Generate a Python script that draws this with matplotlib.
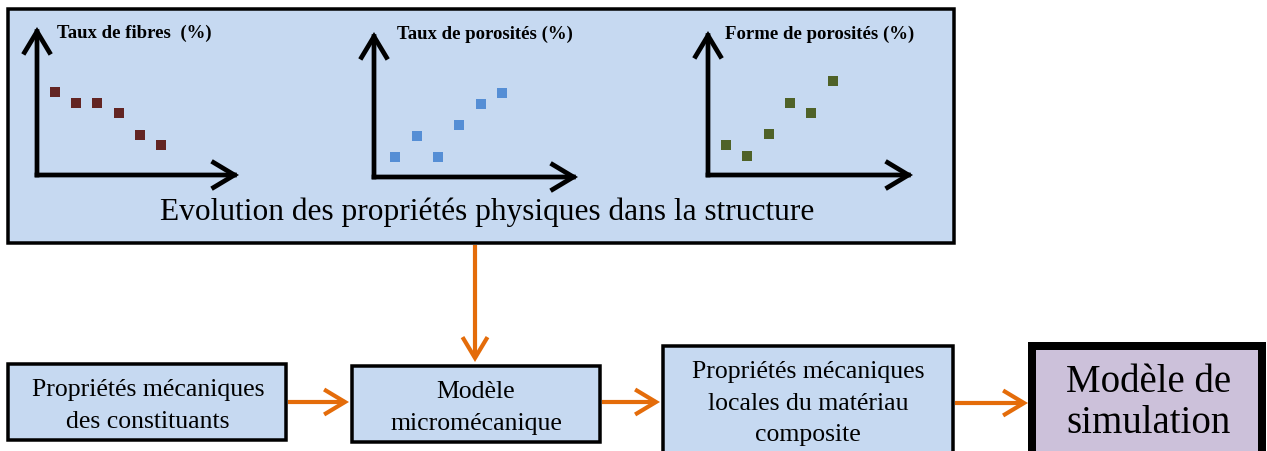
import matplotlib
matplotlib.use("Agg")
import matplotlib.pyplot as plt
from matplotlib.patches import Rectangle, FancyArrowPatch

# ---------------- data ----------------
x_points = [1, 2, 3, 4, 5, 6]
taux_fibres = [8, 7, 7, 6, 4, 3]
taux_porosites = [2, 4, 2, 5, 7, 8]
forme_porosites = [3, 2, 4, 7, 6, 9]

mini_titles = ["Taux de fibres  (%)", "Taux de porosités (%)", "Forme de porosités (%)"]
main_title = "Evolution des propriétés physiques dans la structure"
box1_lines = ["Propriétés mécaniques", "des constituants"]
box2_lines = ["Modèle", "micromécanique"]
box3_lines = ["Propriétés mécaniques", "locales du matériau", "composite"]
box4_lines = ["Modèle de", "simulation"]

# ---------------- style ----------------
W, H = 1267, 452
DPI = 100
BLUE_FILL = "#C6D9F1"
PURPLE_FILL = "#CCC1DA"
ORANGE = "#E46C0A"
SERIF = "Liberation Serif"

fig = plt.figure(figsize=(W / DPI, H / DPI), dpi=DPI)
fig.patch.set_facecolor("white")
ax = fig.add_axes([0, 0, 1, 1])
ax.set_xlim(0, W)
ax.set_ylim(H, 0)
ax.axis("off")


def box(x0, y0, x1, y1, fc, lw_px):
    lw_pt = lw_px * 72 / DPI
    h = lw_px / 2
    r = Rectangle((x0 + h, y0 + h), (x1 - x0) - lw_px, (y1 - y0) - lw_px,
                  facecolor=fc, edgecolor="black", linewidth=lw_pt,
                  joinstyle="miter", clip_on=False)
    ax.add_patch(r)


def orange_arrow(p0, p1):
    a = FancyArrowPatch(p0, p1, arrowstyle="->,head_length=15,head_width=9",
                        mutation_scale=1, color=ORANGE, linewidth=3.0,
                        shrinkA=0, shrinkB=0, joinstyle="miter", capstyle="butt")
    ax.add_patch(a)


# ---------------- top box ----------------
box(6, 8, 956, 246, BLUE_FILL, 3.5)
ax.text(487, 220, main_title, fontsize=22.6, family=SERIF, ha="center",
        va="baseline", color="black")

# ---------------- mini charts ----------------
# (origin x, origin y, arrow tip x, arrow tip top y, title x, title baseline,
#  data, colour, x offset, y offset)
charts = [
    (37, 176, 239, 28, 57, 38, taux_fibres, "#632523", 0.16, 0.18),
    (374, 178, 578, 33, 397, 39, taux_porosites, "#558ED5", 0.0, 0.09),
    (708, 176, 913, 32, 725, 39, forme_porosites, "#4F6228", 0.15, 0.17),
]
XSTEP, YSTEP = 21.3, 10.6
for (ox, oy, tx, ty, ttx, tty, vals, col, xoff, yoff), title in zip(charts, mini_titles):
    w_px, h_px = tx - ox, oy - ty
    sub = fig.add_axes([ox / W, (H - oy) / H, w_px / W, h_px / H])
    sub.set_xlim(xoff, xoff + w_px / XSTEP)
    sub.set_ylim(yoff, yoff + h_px / YSTEP)
    sub.axis("off")
    sub.patch.set_alpha(0)
    for end in [(1, 0), (0, 1)]:
        arr = FancyArrowPatch((0, 0), end, transform=sub.transAxes,
                              arrowstyle="->,head_length=15,head_width=9",
                              mutation_scale=1, color="black", linewidth=3.4,
                              shrinkA=0, shrinkB=0, joinstyle="miter",
                              capstyle="projecting", clip_on=False)
        sub.add_patch(arr)
    sub.scatter(x_points, vals, marker="s", s=52, color=col, linewidths=0,
                clip_on=False, zorder=3)
    ax.text(ttx, tty, title, fontsize=13.5, family=SERIF, fontweight="bold",
            ha="left", va="baseline", color="black")

# ---------------- bottom boxes ----------------
box(6, 363, 288, 443, BLUE_FILL, 3.5)
for txt, y in zip(box1_lines, [396, 428]):
    ax.text(148, y, txt, fontsize=18.5, family=SERIF, ha="center", va="baseline")

box(350, 365, 602, 445, BLUE_FILL, 3.5)
for txt, y in zip(box2_lines, [398, 430]):
    ax.text(476, y, txt, fontsize=18.5, family=SERIF, ha="center", va="baseline")

box(661, 345, 955, 475, BLUE_FILL, 3.5)
for txt, y in zip(box3_lines, [378, 410, 441]):
    ax.text(808, y, txt, fontsize=18.5, family=SERIF, ha="center", va="baseline")

box(1028, 343, 1266, 475, PURPLE_FILL, 8)
for txt, y in zip(box4_lines, [392, 433]):
    ax.text(1149, y, txt, fontsize=28, family=SERIF, ha="center", va="baseline")

# ---------------- orange arrows ----------------
orange_arrow((475, 246), (475, 363))
orange_arrow((288, 403), (349, 403))
orange_arrow((602, 403), (660, 403))
orange_arrow((955, 404), (1028, 404))

fig.savefig("out.png", dpi=DPI, facecolor="white")
